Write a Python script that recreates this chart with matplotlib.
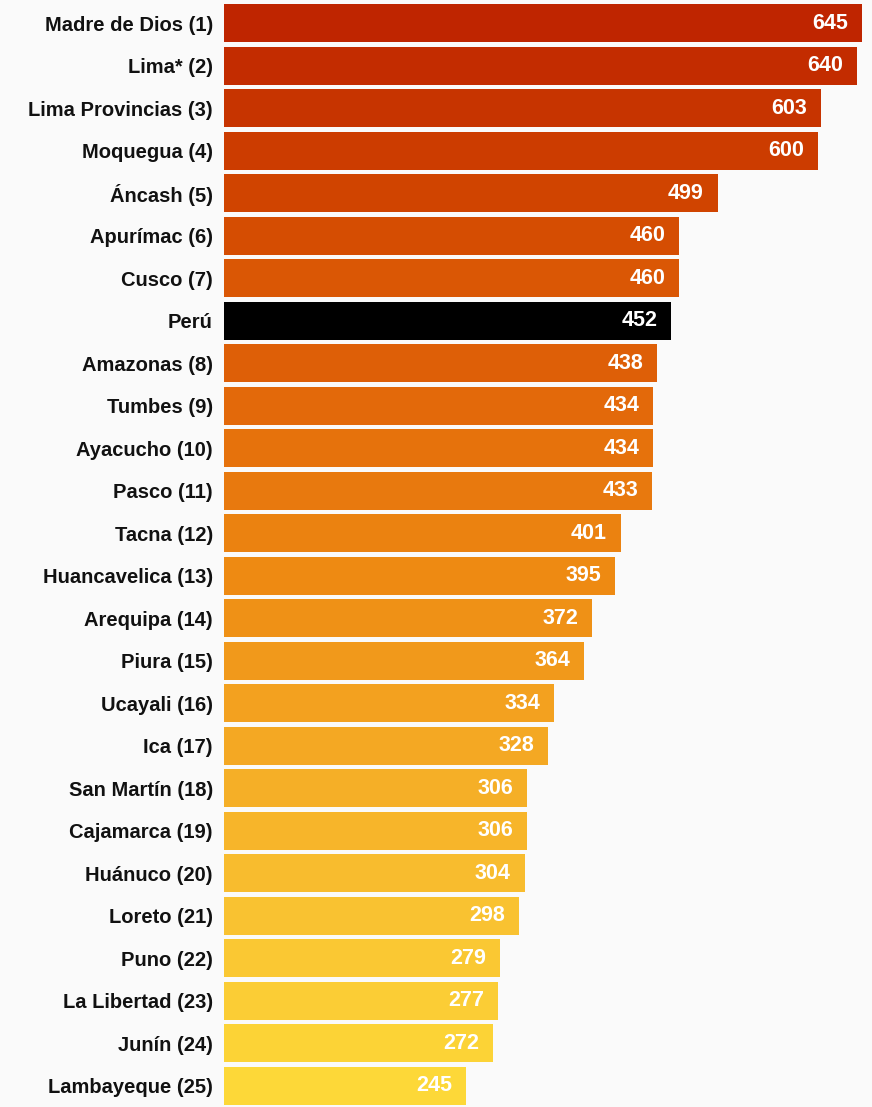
import matplotlib.pyplot as plt
import numpy as np
from matplotlib.colors import LinearSegmentedColormap

regions = ['Madre de Dios (1)', 'Lima* (2)', 'Lima Provincias (3)', 'Moquegua (4)', 'Áncash (5)',
           'Apurímac (6)', 'Cusco (7)', 'Perú', 'Amazonas (8)', 'Tumbes (9)', 'Ayacucho (10)',
           'Pasco (11)', 'Tacna (12)', 'Huancavelica (13)', 'Arequipa (14)', 'Piura (15)',
           'Ucayali (16)', 'Ica (17)', 'San Martín (18)', 'Cajamarca (19)', 'Huánuco (20)',
           'Loreto (21)', 'Puno (22)', 'La Libertad (23)', 'Junín (24)', 'Lambayeque (25)']
values = [645, 640, 603, 600, 499, 460, 460, 452, 438, 434, 434, 433, 401, 395, 372, 364,
          334, 328, 306, 306, 304, 298, 279, 277, 272, 245]

plt.rcParams['font.family'] = ['Liberation Sans', 'DejaVu Sans']

cmap = LinearSegmentedColormap.from_list(
    'ramp', ['#bf2500', '#d04400', '#e3690a', '#ee8a12', '#f4a823', '#f9c231', '#fdd838'])

n = len(values)
colors = []
rank = 0
for lab in regions:
    if lab == 'Perú':
        colors.append('#000000')
    else:
        colors.append(cmap(rank / 24))
        rank += 1

fig = plt.figure(figsize=(8.72, 11.07), dpi=100, facecolor='#fafafa')
ax = fig.add_axes([224 / 872, 0.0, 648 / 872, 1105 / 1107])
ax.set_facecolor('#fafafa')

y = np.arange(n)
ax.barh(y, values, height=0.9, color=colors)
for yi, v in zip(y, values):
    ax.text(v - 14, yi, str(v), color='white', fontsize=15.5, fontweight='bold',
            ha='right', va='center')

ax.set_xlim(0, 655)
ax.set_ylim(n - 0.5, -0.5)
ax.set_yticks(y)
ax.set_yticklabels(regions, fontsize=14.5, fontweight='bold', color='#111111')
ax.tick_params(axis='y', length=0, pad=8)
ax.set_xticks([])
for s in ax.spines.values():
    s.set_visible(False)

fig.savefig('out.png', dpi=100, facecolor=fig.get_facecolor())
